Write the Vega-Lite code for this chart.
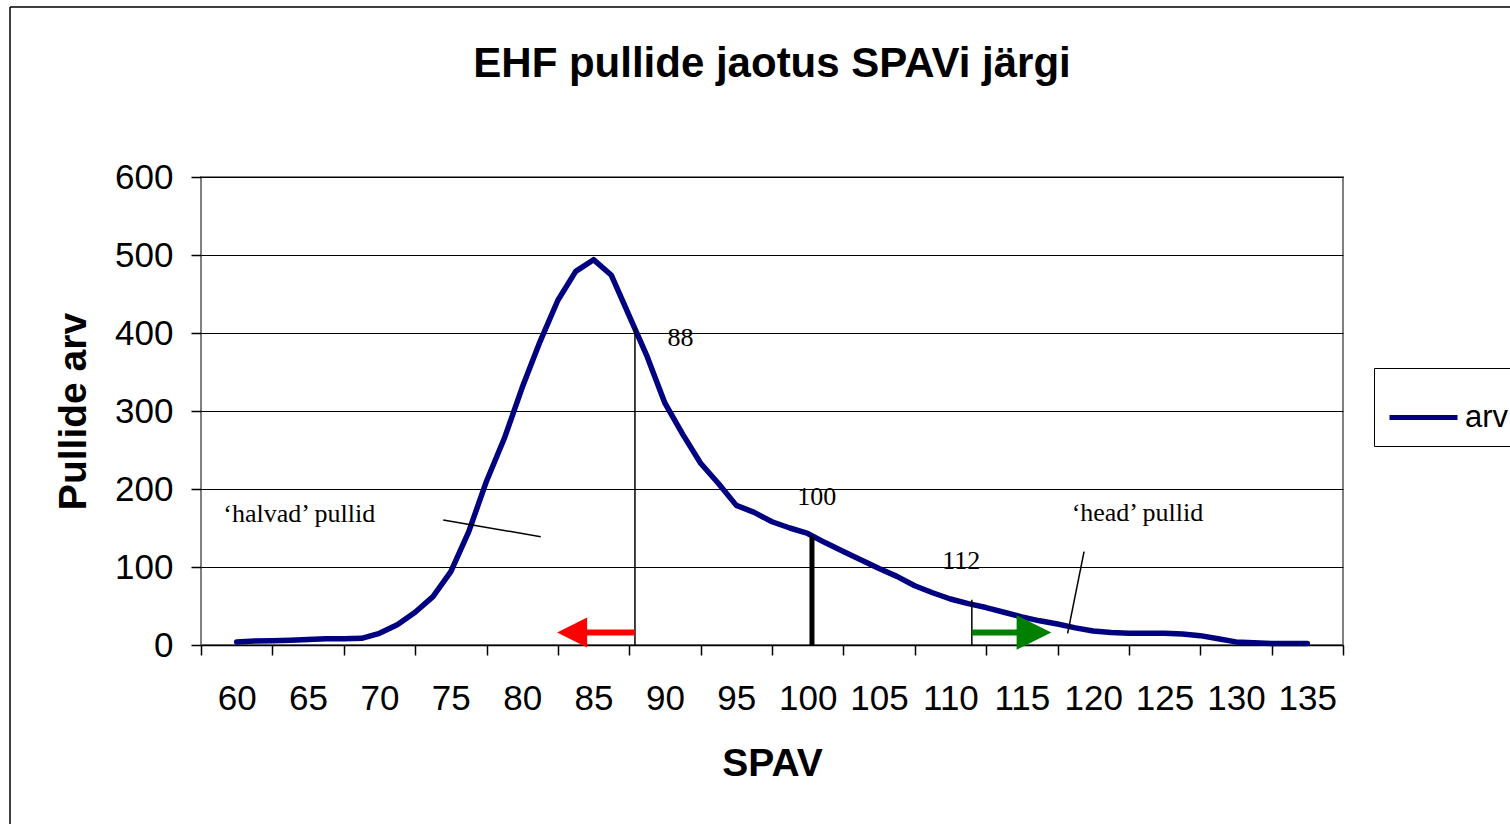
{
  "$schema": "https://vega.github.io/schema/vega-lite/v6.json",
  "width": 1142,
  "height": 468,
  "autosize": {"type": "none"},
  "padding": {"left": 201, "top": 177, "right": 167, "bottom": 179},
  "background": "white",
  "title": {
    "text": "EHF pullide jaotus SPAVi järgi",
    "font": "Liberation Sans",
    "fontSize": 42,
    "fontWeight": "bold",
    "color": "black",
    "anchor": "middle",
    "frame": "group",
    "offset": -80
  },
  "config": {
    "view": {"stroke": "#808080", "strokeWidth": 2},
    "font": "Liberation Sans",
    "axis": {"labelColor": "black", "titleColor": "black", "tickColor": "black", "labelFont": "Liberation Sans", "titleFont": "Liberation Sans"}
  },
  "layer": [
    {
      "data": {"values": [
        {"s": 60, "v": 4}, {"s": 61.25, "v": 5}, {"s": 62.5, "v": 5.5}, {"s": 63.75, "v": 6},
        {"s": 65, "v": 7}, {"s": 66.25, "v": 8}, {"s": 67.5, "v": 8}, {"s": 68.75, "v": 8.5},
        {"s": 70, "v": 15}, {"s": 71.25, "v": 26}, {"s": 72.5, "v": 42}, {"s": 73.75, "v": 62},
        {"s": 75, "v": 94}, {"s": 76.25, "v": 145}, {"s": 77.5, "v": 210}, {"s": 78.75, "v": 265},
        {"s": 80, "v": 330}, {"s": 81.25, "v": 389}, {"s": 82.5, "v": 442}, {"s": 83.75, "v": 479},
        {"s": 85, "v": 494}, {"s": 86.25, "v": 474}, {"s": 87.5, "v": 422}, {"s": 88.75, "v": 370},
        {"s": 90, "v": 310}, {"s": 91.25, "v": 270}, {"s": 92.5, "v": 233}, {"s": 93.75, "v": 207},
        {"s": 95, "v": 179}, {"s": 96.25, "v": 170}, {"s": 97.5, "v": 158}, {"s": 98.75, "v": 150},
        {"s": 100, "v": 143}, {"s": 101.25, "v": 131}, {"s": 102.5, "v": 120}, {"s": 103.75, "v": 109},
        {"s": 105, "v": 98}, {"s": 106.25, "v": 88}, {"s": 107.5, "v": 76}, {"s": 108.75, "v": 67},
        {"s": 110, "v": 59}, {"s": 111.25, "v": 53}, {"s": 112.5, "v": 48}, {"s": 113.75, "v": 42},
        {"s": 115, "v": 36}, {"s": 116.25, "v": 31}, {"s": 117.5, "v": 27}, {"s": 118.75, "v": 22},
        {"s": 120, "v": 18}, {"s": 121.25, "v": 16}, {"s": 122.5, "v": 15}, {"s": 123.75, "v": 15},
        {"s": 125, "v": 15}, {"s": 126.25, "v": 14}, {"s": 127.5, "v": 12}, {"s": 128.75, "v": 8},
        {"s": 130, "v": 4}, {"s": 131.25, "v": 3}, {"s": 132.5, "v": 2}, {"s": 133.75, "v": 2},
        {"s": 135, "v": 2}
      ]},
      "mark": {"type": "line", "strokeWidth": 5.5, "strokeCap": "round", "strokeJoin": "round"},
      "encoding": {
        "x": {
          "field": "s", "type": "quantitative",
          "scale": {"domain": [57.5, 137.5], "nice": false, "zero": false},
          "axis": {
            "title": "SPAV",
            "titleFontSize": 39, "titleFontWeight": "bold", "titlePadding": 28,
            "values": [57.5, 62.5, 67.5, 72.5, 77.5, 82.5, 87.5, 92.5, 97.5, 102.5, 107.5, 112.5, 117.5, 122.5, 127.5, 132.5, 137.5],
            "labelExpr": "datum.value > 136 ? '' : format(datum.value + 2.5, 'd')",
            "labelOffset": 35.69,
            "labelFontSize": 35, "labelPadding": 26,
            "labelFlush": false, "labelOverlap": false, "labelBound": false,
            "tickSize": 10, "tickWidth": 1.5, "tickColor": "black",
            "grid": false, "domain": true, "domainColor": "black", "domainWidth": 1.5
          }
        },
        "y": {
          "field": "v", "type": "quantitative",
          "scale": {"domain": [0, 600], "nice": false},
          "axis": {
            "title": "Pullide arv",
            "titleFontSize": 39, "titleFontWeight": "bold", "titlePadding": 21,
            "values": [0, 100, 200, 300, 400, 500, 600],
            "labelFontSize": 35, "labelPadding": 18,
            "tickSize": 10, "tickWidth": 1.5, "tickColor": "black",
            "grid": true, "gridColor": "black", "gridWidth": 1,
            "domain": false
          }
        },
        "color": {
          "datum": "arv",
          "scale": {"range": ["#000080"]},
          "legend": {
            "orient": "none", "legendX": 1173, "legendY": 191,
            "title": null,
            "strokeColor": "black",
            "padding": 13,
            "symbolType": "stroke", "symbolSize": 4624, "symbolStrokeWidth": 5,
            "labelFontSize": 31, "labelFont": "Liberation Sans", "labelColor": "black",
            "labelOffset": 5
          }
        }
      }
    },
    {
      "data": {"values": [{}]},
      "mark": {"type": "rule", "color": "black", "strokeWidth": 1.5},
      "encoding": {
        "x": {"datum": 44.12, "type": "quantitative"},
        "y": {"datum": 818, "type": "quantitative"},
        "y2": {"datum": -235}
      }
    },
    {
      "data": {"values": [{}]},
      "mark": {"type": "rule", "color": "black", "strokeWidth": 1.5},
      "encoding": {
        "x": {"datum": 44.12, "type": "quantitative"},
        "x2": {"datum": 150},
        "y": {"datum": 818, "type": "quantitative"}
      }
    },
    {
      "data": {"values": [{"s": 87.9, "v": 407}, {"s": 111.5, "v": 58}]},
      "mark": {"type": "rule", "color": "black", "strokeWidth": 1.5},
      "encoding": {
        "x": {"field": "s", "type": "quantitative"},
        "y": {"field": "v", "type": "quantitative"},
        "y2": {"datum": 0}
      }
    },
    {
      "data": {"values": [{"s": 100.3, "v": 139}]},
      "mark": {"type": "rule", "color": "black", "strokeWidth": 5},
      "encoding": {
        "x": {"field": "s", "type": "quantitative"},
        "y": {"field": "v", "type": "quantitative"},
        "y2": {"datum": 0}
      }
    },
    {
      "data": {"values": [
        {"s": 74.47, "v": 160.3, "s2": 81.3, "v2": 138.8},
        {"s": 119.36, "v": 119.6, "s2": 118.21, "v2": 15}
      ]},
      "mark": {"type": "rule", "color": "black", "strokeWidth": 1.5},
      "encoding": {
        "x": {"field": "s", "type": "quantitative"},
        "x2": {"field": "s2"},
        "y": {"field": "v", "type": "quantitative"},
        "y2": {"field": "v2"}
      }
    },
    {
      "data": {"values": [{"s": 84.4, "s2": 87.9, "v": 16}]},
      "mark": {"type": "rule", "color": "#FF0000", "strokeWidth": 6},
      "encoding": {
        "x": {"field": "s", "type": "quantitative"},
        "x2": {"field": "s2"},
        "y": {"field": "v", "type": "quantitative"}
      }
    },
    {
      "data": {"values": [{"s": 83.5, "v": 16}]},
      "mark": {"type": "point", "shape": "M-1,0L1,-1L1,1Z", "size": 900, "filled": true, "color": "#FF0000", "opacity": 1},
      "encoding": {
        "x": {"field": "s", "type": "quantitative"},
        "y": {"field": "v", "type": "quantitative"}
      }
    },
    {
      "data": {"values": [{"s": 111.5, "s2": 114.8, "v": 16}]},
      "mark": {"type": "rule", "color": "#008000", "strokeWidth": 6},
      "encoding": {
        "x": {"field": "s", "type": "quantitative"},
        "x2": {"field": "s2"},
        "y": {"field": "v", "type": "quantitative"}
      }
    },
    {
      "data": {"values": [{"s": 115.85, "v": 16}]},
      "mark": {"type": "point", "shape": "M1,0L-1,-1L-1,1Z", "size": 1200, "filled": true, "color": "#008000", "opacity": 1},
      "encoding": {
        "x": {"field": "s", "type": "quantitative"},
        "y": {"field": "v", "type": "quantitative"}
      }
    },
    {
      "data": {"values": [
        {"s": 91.09, "v": 383, "t": "88"},
        {"s": 100.63, "v": 180, "t": "100"},
        {"s": 110.76, "v": 97.5, "t": "112"},
        {"s": 64.38, "v": 158, "t": "‘halvad’ pullid"},
        {"s": 123.1, "v": 159, "t": "‘head’ pullid"}
      ]},
      "mark": {"type": "text", "font": "Liberation Serif", "fontSize": 26, "color": "black", "align": "center", "baseline": "alphabetic"},
      "encoding": {
        "x": {"field": "s", "type": "quantitative"},
        "y": {"field": "v", "type": "quantitative"},
        "text": {"field": "t"}
      }
    }
  ]
}
